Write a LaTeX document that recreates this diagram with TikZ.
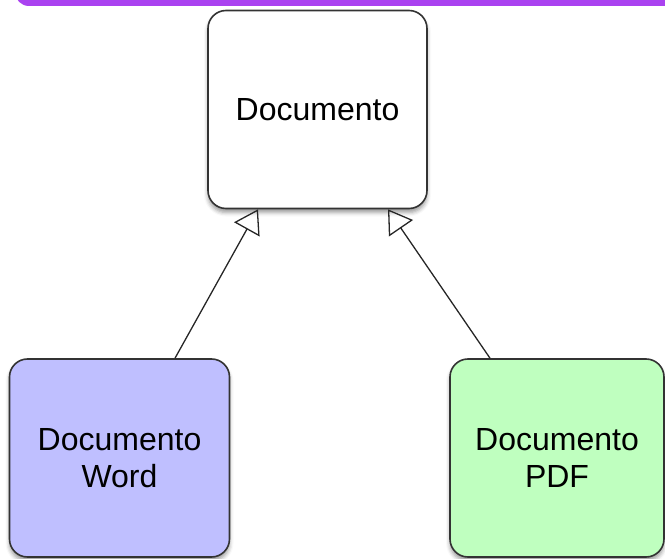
\documentclass[tikz,border=0pt]{standalone}
\usepackage{fontspec}
\setmainfont{Liberation Sans}
\usetikzlibrary{arrows.meta, shadows.blur}

\definecolor{barpurple}{RGB}{170,66,240}
\definecolor{wordblue}{RGB}{191,191,255}
\definecolor{pdfgreen}{RGB}{191,255,191}

\tikzset{
  classbox/.style={draw=black!80, line width=1.6pt, rounded corners=18pt,
                   minimum height=198pt, align=center,
                   font=\fontsize{32}{37}\selectfont,
                   blur shadow={shadow xshift=0pt, shadow yshift=-4pt,
                                shadow blur radius=4pt, shadow opacity=40}},
  inherits/.style={draw=black!85, line width=1.3pt,
                   -{Triangle[open, length=23pt, width=29pt, line width=1.3pt]}}
}

\begin{document}
\begin{tikzpicture}[x=1pt, y=-1pt]
\useasboundingbox (0,0) rectangle (665,559);
% title bar
\begin{scope}
    \clip (0,0) rectangle (665,559);
    \fill[barpurple, rounded corners=14pt] (15,-30) rectangle (700,6);
\end{scope}

\node[classbox, fill=white, minimum width=219pt] (doc) at (317.5,109.5) {Documento};
\node[classbox, fill=wordblue, minimum width=220pt] (word) at (119.5,458) {Documento\\Word};
\node[classbox, fill=pdfgreen, minimum width=214pt] (pdf) at (557,458) {Documento\\PDF};

\draw[inherits] ([xshift=55.5pt]word.north) -- ([xshift=-59.5pt]doc.south);
\draw[inherits] ([xshift=-67pt]pdf.north) -- ([xshift=70.5pt]doc.south);
\end{tikzpicture}
\end{document}
